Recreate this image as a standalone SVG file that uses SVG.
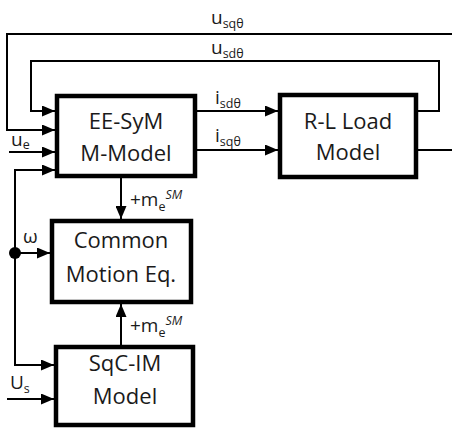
<svg xmlns="http://www.w3.org/2000/svg" width="452" height="428" viewBox="0 0 452 428">
  <style>
    .box { fill: #ffffff; stroke: #000000; stroke-width: 4.5; }
    .wire { fill: none; stroke: #000000; stroke-width: 2; }
    .title { font-family: "Open Sans", "Noto Sans", sans-serif; font-size: 22px; fill: #1a1a1a; text-anchor: middle; }
    .lbl { font-family: "Open Sans", "Noto Sans", sans-serif; font-size: 19px; fill: #1a1a1a; }
    .sub { font-size: 12.5px; }
    .sup { font-size: 12.5px; font-style: italic; }
  </style>
  <defs>
    <marker id="arrow" markerUnits="userSpaceOnUse" markerWidth="13" markerHeight="11" refX="13" refY="5.5" orient="auto">
      <path d="M0,0 L13,5.5 L0,11 z" fill="#000000"/>
    </marker>
  </defs>

  <rect width="452" height="428" fill="#ffffff"/>

  <!-- signal lines -->
  <g id="connectors">
    <!-- u_sqθ feedback -->
    <path class="wire" d="M418,150 H452"/>
    <path class="wire" d="M452,34 H7 V130 H55" marker-end="url(#arrow)"/>
    <!-- u_sdθ feedback -->
    <path class="wire" d="M418,111 H439 V61 H31 V111 H55" marker-end="url(#arrow)"/>
    <!-- currents to load -->
    <path class="wire" d="M197,111 H278" marker-end="url(#arrow)"/>
    <path class="wire" d="M197,150 H278" marker-end="url(#arrow)"/>
    <!-- u_e input -->
    <path class="wire" d="M9,152 H55" marker-end="url(#arrow)"/>
    <!-- speed distribution -->
    <path class="wire" d="M15,253 V170 H55" marker-end="url(#arrow)"/>
    <path class="wire" d="M15,253 V365 H54" marker-end="url(#arrow)"/>
    <path class="wire" d="M15,253 H50" marker-end="url(#arrow)"/>
    <circle cx="15" cy="253" r="6" fill="#000000"/>
    <!-- U_s input -->
    <path class="wire" d="M7,399 H54" marker-end="url(#arrow)"/>
    <!-- torques -->
    <path class="wire" d="M121,178 V219" marker-end="url(#arrow)"/>
    <path class="wire" d="M121,345 V304" marker-end="url(#arrow)"/>

    <!-- labels -->
    <text class="lbl" x="211" y="24">u<tspan class="sub" dy="4">sqθ</tspan></text>
    <text class="lbl" x="211" y="54">u<tspan class="sub" dy="4">sdθ</tspan></text>
    <text class="lbl" x="215" y="104">i<tspan class="sub" dy="4">sdθ</tspan></text>
    <text class="lbl" x="215" y="142">i<tspan class="sub" dy="4">sqθ</tspan></text>
    <text class="lbl" x="11" y="146">u<tspan class="sub" dy="3">e</tspan></text>
    <text class="lbl" x="23" y="243">ω</text>
    <text class="lbl" x="10" y="389">U<tspan class="sub" dy="4">s</tspan></text>
    <text class="lbl" x="130" y="206">+m<tspan class="sub" dy="5">e</tspan><tspan class="sup" dy="-12">SM</tspan></text>
    <text class="lbl" x="130" y="332">+m<tspan class="sub" dy="5">e</tspan><tspan class="sup" dy="-12">SM</tspan></text>
  </g>

  <g id="ee-sym">
    <rect class="box" x="57" y="96" width="138" height="80"/>
    <text class="title" x="126" y="129">EE-SyM</text>
    <text class="title" x="126" y="161">M-Model</text>
  </g>

  <g id="rl-load">
    <rect class="box" x="280" y="95" width="136" height="82"/>
    <text class="title" x="348" y="129">R-L Load</text>
    <text class="title" x="348" y="160">Model</text>
  </g>

  <g id="motion-eq">
    <rect class="box" x="52" y="221" width="139" height="81"/>
    <text class="title" x="121" y="248">Common</text>
    <text class="title" x="121" y="282">Motion Eq.</text>
  </g>

  <g id="sqc-im">
    <rect class="box" x="56" y="347" width="137" height="78"/>
    <text class="title" x="125" y="371">SqC-IM</text>
    <text class="title" x="125" y="404">Model</text>
  </g>
</svg>
